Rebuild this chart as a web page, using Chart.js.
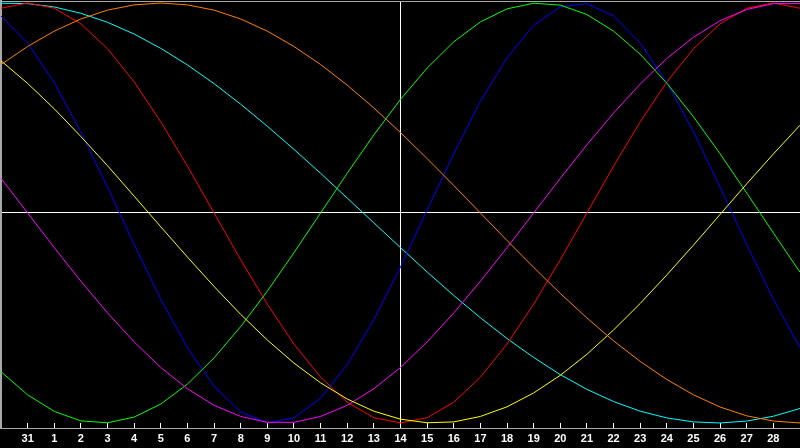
<!DOCTYPE html>
<html>
<head>
<meta charset="utf-8">
<script src="https://cdn.jsdelivr.net/npm/chart.js@4"></script>
<style>
  html, body { margin: 0; padding: 0; background: #000; }
  #c { display: block; }
</style>
</head>
<body>
<canvas id="c" width="800" height="448"></canvas>
<script>
// Day labels, one per plotted day (first and last lie on the chart edges, unlabelled)
const dayLabels = ['30','31','1','2','3','4','5','6','7','8','9','10','11','12','13','14',
  '15','16','17','18','19','20','21','22','23','24','25','26','27','28','1'];
const markedDayIndex = 15; // "14" – vertical marker line

const red = [0.975,1,0.975,0.901,0.782,0.624,0.434,0.223,0,-0.223,-0.434,-0.624,-0.782,-0.901,-0.975,-1,
  -0.975,-0.901,-0.782,-0.624,-0.434,-0.223,0,0.223,0.434,0.624,0.782,0.901,0.975,1,0.975];
const blue = [0.938,0.809,0.621,0.386,0.123,-0.150,-0.411,-0.642,-0.825,-0.947,-0.999,-0.976,-0.882,-0.722,-0.508,-0.257,
  0.014,0.283,0.531,0.739,0.894,0.982,0.997,0.938,0.809,0.621,0.387,0.123,-0.150,-0.411,-0.642];
const green = [-0.756,-0.866,-0.945,-0.990,-0.999,-0.972,-0.910,-0.815,-0.690,-0.541,-0.372,-0.189,0,0.189,0.372,0.541,
  0.690,0.815,0.910,0.972,0.999,0.990,0.945,0.866,0.756,0.618,0.458,0.282,0.095,-0.095,-0.282];
const magenta = [0.165,0,-0.165,-0.325,-0.476,-0.614,-0.736,-0.837,-0.916,-0.969,-0.997,-0.997,-0.969,-0.916,-0.837,-0.736,
  -0.614,-0.476,-0.325,-0.165,0,0.165,0.325,0.476,0.614,0.736,0.837,0.916,0.969,0.997,0.997];
const yellow = [0.725,0.617,0.496,0.364,0.225,0.080,-0.066,-0.210,-0.350,-0.483,-0.605,-0.715,-0.809,-0.886,-0.944,-0.982,
  -0.999,-0.995,-0.969,-0.923,-0.857,-0.773,-0.673,-0.557,-0.431,-0.295,-0.153,-0.007,0.139,0.281,0.418];
const orange = [0.707,0.793,0.866,0.924,0.966,0.991,1,0.991,0.966,0.924,0.866,0.793,0.707,0.609,0.5,0.383,
  0.259,0.131,0,-0.131,-0.259,-0.383,-0.5,-0.609,-0.707,-0.793,-0.866,-0.924,-0.966,-0.991,-1];
const cyan = [0.999,0.997,0.981,0.951,0.908,0.852,0.784,0.705,0.616,0.518,0.413,0.303,0.189,0.071,-0.047,-0.165,
  -0.281,-0.393,-0.499,-0.598,-0.688,-0.770,-0.840,-0.898,-0.944,-0.976,-0.995,-1.000,-0.991,-0.968,-0.931];

const seriesList = [
  { data: orange,  color: '#ff8000' },
  { data: yellow,  color: '#ffff00' },
  { data: magenta, color: '#ff00ff' },
  { data: green,   color: '#00ff00' },
  { data: blue,    color: '#0000ff' },
  { data: red,     color: '#ff0000' },
  { data: cyan,    color: '#00ffff' }
];

const borderGray = '#a8a8a8';

new Chart(document.getElementById('c'), {
  type: 'line',
  data: {
    labels: dayLabels,
    datasets: seriesList.map(s => ({
      data: s.data,
      borderColor: s.color,
      borderWidth: 1,
      pointRadius: 0,
      tension: 0,
      fill: false
    }))
  },
  options: {
    responsive: false,
    devicePixelRatio: 1,
    animation: false,
    layout: { padding: 0 },
    plugins: { legend: { display: false }, tooltip: { enabled: false } },
    scales: {
      x: {
        type: 'category',
        position: 'bottom',
        offset: false,
        grid: {
          drawOnChartArea: true,
          drawTicks: true,
          tickLength: -5,
          color: ctx => ctx.index === markedDayIndex ? '#ffffff' : 'rgba(0,0,0,0)',
          tickColor: ctx => (ctx.index > 0 && ctx.index < dayLabels.length - 1) ? '#ffffff' : 'rgba(0,0,0,0)',
          lineWidth: 1
        },
        border: { display: true, color: borderGray, width: 1 },
        ticks: {
          color: '#ffffff',
          autoSkip: false,
          maxRotation: 0,
          padding: 9,
          font: { family: 'Liberation Sans', weight: 'bold', size: 11 },
          callback: (v, i) => (i === 0 || i === dayLabels.length - 1) ? '' : dayLabels[i]
        },
        afterFit: s => { s.height = 20; s.paddingLeft = 0; s.paddingRight = 0; }
      },
      xTop: {
        type: 'category',
        position: 'top',
        offset: false,
        grid: { display: false, drawTicks: false },
        border: { display: true, color: borderGray, width: 1 },
        ticks: { display: false },
        afterFit: s => { s.height = 1; s.paddingLeft = 0; s.paddingRight = 0; }
      },
      y: {
        min: -1.024,
        max: 1.0095,
        position: 'left',
        grid: {
          drawTicks: false,
          color: ctx => (ctx.tick && ctx.tick.value === 0) ? '#ffffff' : 'rgba(0,0,0,0)',
          lineWidth: 1
        },
        border: { display: true, color: borderGray, width: 2 },
        ticks: { display: false, stepSize: 1 },
        afterFit: s => { s.width = 1; s.paddingTop = 0; s.paddingBottom = 0; }
      }
    }
  }
});
</script>
</body>
</html>
